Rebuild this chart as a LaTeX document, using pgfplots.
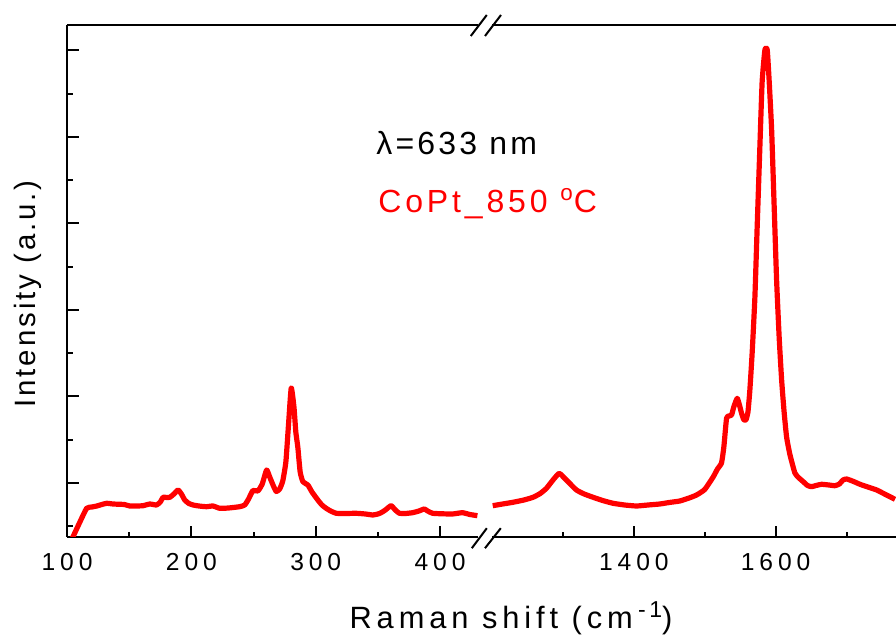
\documentclass[border=0pt]{standalone}
\usepackage{fontspec}
\setmainfont{Liberation Sans}
\newfontfamily\ls[LetterSpace=10]{Liberation Sans}
\newfontfamily\lsb[LetterSpace=12]{Liberation Sans}
\newfontfamily\lsx[LetterSpace=16]{Liberation Sans}
\newfontfamily\lst[LetterSpace=20]{Liberation Sans}
\usepackage{pgfplots}
\pgfplotsset{compat=1.18}
\pgfplotstableread{
x y
104 -2
110 14
115.8 28.7
120 30
124 31
128 32.5
132 33.7
137 33
142.5 32.7
146 32.5
150.6 31
156 31
161.2 31.3
166.6 33
172 32
175 35
177.3 39.7
180 39.5
182.7 39.7
186 43
189.3 47
192 43
194.7 37
198 33.5
201.4 32
206 31
212.1 30.3
217.4 31
222.8 28.7
230 29
238.8 30.3
242.9 32
246 38
249.5 46.5
253.5 46
257 53
260.5 67
263 60
266 51
268.3 45.5
271 48
273.5 56
276 75
278 110
280.3 149
282.5 130
284 105
285.6 90
287.5 65
289.7 55.3
293.7 52
297 45
301.7 37
305 32
308.4 28.7
312 26
316.5 23.7
324 23.5
332.5 23.7
340 23
345.9 22
350 23
352.6 24.3
356 27
360.6 31.3
364 27
367.3 23.7
372 23.5
377.9 24.3
383 26
387.3 28
390 26
394 23.7
402 23.2
410 23
418 24.3
424 22.5
430 21.3
}\lowdata
\pgfplotstableread{
x y
1201 31.3
1215 33
1229.6 34.7
1245 37
1257.9 39.7
1268 43.5
1276.8 48.7
1286 57
1294.6 63.7
1300 60.5
1307.3 55.3
1319.1 47
1330 43
1342.6 39.7
1356 36.5
1370.8 33.7
1387 32
1403.8 31
1420 32
1436.7 33
1450 34.5
1464.9 36
1478 39
1488.5 42
1500 47.5
1511.9 60
1518 68
1523.7 74
1527 90
1530.8 118.7
1534 121
1537.9 122
1541 130
1545.8 138.7
1549 132
1552 123.7
1555 117.5
1558.1 117
1561 125
1563.7 147
1567 185
1570.8 240
1574 310
1577.8 390
1581 455
1584.9 487
1588.2 487
1591 455
1594.4 407
1598 330
1601.4 257
1605 200
1608.5 157
1612 125
1615.5 100
1620 83
1627.2 64
1633 59
1639 55.3
1645 51.5
1650.8 50.3
1657 51.5
1664.9 52.7
1675 52
1683.7 51.3
1690 53
1695 57
1700.2 58
1710 55.5
1719 52.7
1730 50
1742.6 47
1755 42.5
1768.4 37.7
}\highdata
\begin{document}
\begin{tikzpicture}
\pgfplotsset{
  common/.style={
    scale only axis, anchor=south west,
    height=256pt, ymin=0, ymax=512,
    axis line style={line width=1pt},
    tick style={line width=1pt, black},
    tick align=inside,
    major tick length=5.3pt, minor tick length=2.6pt,
    xtick pos=bottom,
    /pgf/number format/assume math mode=true,
    /pgf/number format/1000 sep={},
    xticklabel style={font=\lst\fontsize{12.3}{14}\selectfont, anchor=base, yshift=-17pt, inner sep=0pt},
    clip mode=individual,
  },
  curve/.style={red, line width=2.6pt, line join=round, smooth, tension=0.3},
}
\begin{axis}[common,
  at={(33.5pt,50pt)}, width=205.5pt,
  xmin=100, xmax=430.5,
  axis x line*=box, axis y line*=left,
  xtick={100,200,300,400}, minor xtick={150,250,350},
  ytick={54,140.5,227,313.5,400,486.5},
  minor ytick={10.75,97.25,183.75,270.25,356.75,443.25},
  yticklabels={},
  y tick style={/pgfplots/major tick length=6pt, /pgfplots/minor tick length=3pt},
]
\addplot[curve] table[x=x,y=y] {\lowdata};
\end{axis}
\begin{axis}[common,
  at={(246pt,50pt)}, width=202pt,
  xmin=1200, xmax=1769.8,
  axis x line*=box, axis y line=none,
  xtick={1400,1600}, minor xtick={1300,1500,1700},
]
\addplot[curve] table[x=x,y=y] {\highdata};
\end{axis}
% axis breaks
\draw[line width=1pt] (235.9pt,44.4pt) -- (243.4pt,54.4pt);
\draw[line width=1pt] (242.5pt,44.4pt) -- (250.4pt,54.4pt);
\draw[line width=1pt] (235.4pt,300.5pt) -- (243.4pt,311pt);
\draw[line width=1pt] (242.5pt,300.5pt) -- (250.5pt,311pt);
% labels
\node[anchor=base, inner sep=0pt] at (255.5pt,4pt) {\lsx\fontsize{15.4}{17}\selectfont Raman shift (cm\,\raisebox{5.5pt}{\fontsize{11.5}{12}\selectfont -1})};
\node[anchor=base, rotate=90, inner sep=0pt] at (17.5pt,171.5pt) {\ls\fontsize{14.7}{17}\selectfont Intensity (a.u.)};
\node[anchor=base west, inner sep=0pt] at (188pt,241pt) {\ls\fontsize{16}{18}\selectfont λ=633 nm};
\node[anchor=base west, inner sep=0pt, text=red] at (189pt,212pt) {\lsb\fontsize{16}{18}\selectfont CoPt\_850 \textsuperscript{o}C};
\pgfresetboundingbox
\path[use as bounding box] (0pt,0pt) rectangle (448pt,318.5pt);
\end{tikzpicture}
\end{document}
